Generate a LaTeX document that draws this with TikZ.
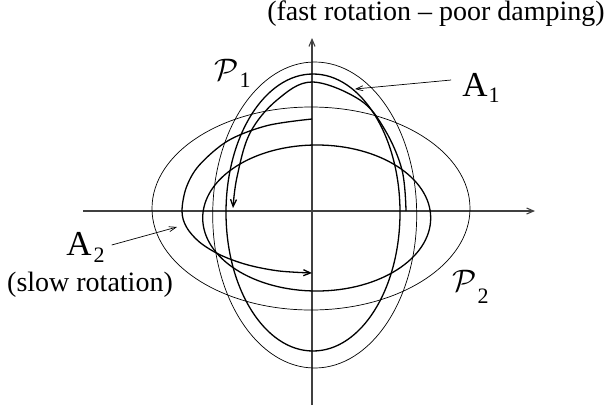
\documentclass[tikz,border=0pt]{standalone}
\usepackage{fontspec}
\setmainfont{Liberation Serif}
\usepackage{bm}
\usetikzlibrary{arrows.meta}
\begin{document}
\begin{tikzpicture}[x=1pt,y=-1pt,
  thincurve/.style={line width=0.7pt},
  thickcurve/.style={line width=1.3pt},
  axisline/.style={line width=1.1pt, black!75, -{Straight Barb[length=7pt,width=6pt]}},
  leader/.style={line width=0.7pt,-{Straight Barb[length=7pt,width=5pt]}},
  spiraltip/.style={-{Straight Barb[length=7pt,width=6pt]}},
  lbl/.style={inner sep=0pt, font=\fontsize{28}{30}\selectfont},
  biglbl/.style={inner sep=0pt, font=\fontsize{35}{37}\selectfont},
  sublbl/.style={inner sep=0pt, font=\fontsize{22}{24}\selectfont},
  callbl/.style={inner sep=0pt, font=\fontsize{20.74}{22}\selectfont},
]
\useasboundingbox (0,0) rectangle (610,408);
% axes
\coordinate (xl) at (83,211);
\coordinate (xr) at (535,211);
\coordinate (yb) at (312,405);
\coordinate (yt) at (312,38);
\draw[axisline] (xl) -- (xr);
\draw[axisline] (yb) -- (yt);
% closed curves
\draw[thincurve] (311,208.5) ellipse [x radius=159, y radius=101.5];
\draw[thincurve] (314.7,215) ellipse [x radius=102, y radius=153];
\draw[thickcurve] (313,212.5) ellipse [x radius=87, y radius=138.5];
\draw[thickcurve] (316.7,218) ellipse [x radius=114, y radius=73];
% spirals
\draw[thickcurve, spiraltip] plot[smooth, tension=0.6] coordinates {(406,211) (402,170) (385,130) (360,100) (312,82) (277,100) (250,133) (237,177) (233,208)};
\draw[thickcurve, spiraltip] plot[smooth, tension=0.55] coordinates {(312,119) (267.5,125.5) (228.4,140.5) (199.4,165) (186.4,187.2) (182,211) (186.4,227) (199.4,242) (220,254.8) (247,264.7) (278.4,270.9) (312,273)};
% labels
\node[lbl] (top) at (436,14) {(fast rotation – poor damping)};
\node[lbl] (slow) at (90,285) {(slow rotation)};
\node[biglbl] (A1) at (475,85) {A};
\node[sublbl] (A1s) at (494,95) {1};
\node[biglbl] (A2) at (79,244) {A};
\node[sublbl] (A2s) at (99,255) {2};
\node[callbl] (P1) at (227,70) {\scalebox{1.5}{$\mathcal{P}$}};
\node[sublbl] (P1s) at (245,80) {1};
\node[callbl] (P2) at (465,281) {\scalebox{1.5}{$\mathcal{P}$}};
\node[sublbl] (P2s) at (483,296) {2};
% leaders
\coordinate (a1tip) at (355,89);
\coordinate (a2tip) at (177,227);
\draw[leader] ([shift={(-11,-5)}]A1.west) -- (a1tip);
\draw[leader] ([shift={(7,-10)}]A2s.east) -- (a2tip);
\end{tikzpicture}
\end{document}
